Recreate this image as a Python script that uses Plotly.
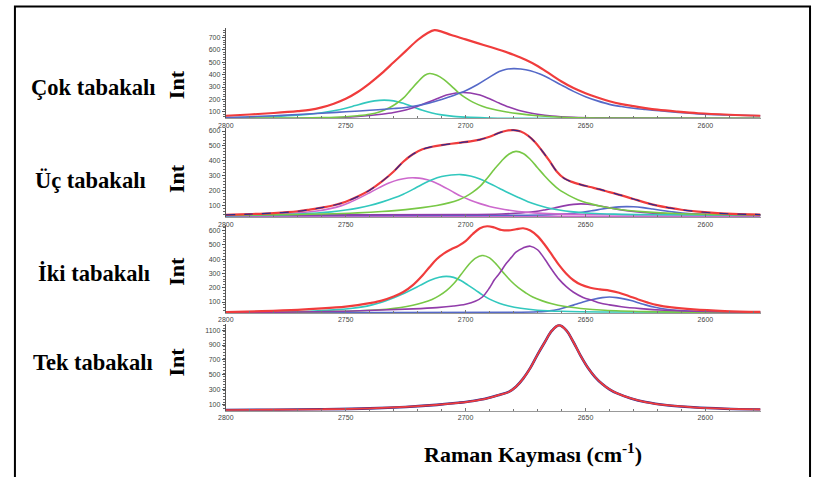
import plotly.graph_objects as go

W, H = 813, 477

# ---------------- data ----------------
LAYER_NAMES = ["Çok tabakalı", "Üç tabakalı", "İki tabakalı", "Tek tabakalı"]
X_TICKS = [2800, 2750, 2700, 2650, 2600]
X_TICK_LABELS = ["2800", "2750", "2700", "2650", "2600"]
Y_TICKS_1 = [100, 200, 300, 400, 500, 600, 700]
Y_TICKS_2 = [100, 200, 300, 400, 500, 600]
Y_TICKS_3 = [100, 200, 300, 400, 500, 600]
Y_TICKS_4 = [100, 300, 500, 700, 900, 1100]
X_TITLE = "Raman Kayması (cm<sup>-1</sup>)"

# Panel 1 : Çok tabakalı
p1_red_x = [2800, 2790, 2780, 2770, 2765, 2760, 2755, 2750, 2745, 2740, 2735, 2730, 2725, 2720, 2716, 2713, 2710, 2706, 2700, 2695, 2690, 2685, 2680, 2675, 2670, 2665, 2660, 2655, 2650, 2645, 2640, 2635, 2630, 2625, 2620, 2612, 2603, 2590, 2577]
p1_red_y = [68, 78, 90, 105, 115, 135, 165, 205, 260, 330, 410, 500, 590, 680, 735, 760, 748, 720, 685, 655, 625, 595, 560, 520, 470, 408, 345, 292, 250, 215, 185, 162, 145, 130, 117, 102, 88, 76, 68]
p1_green_x = [2800, 2770, 2760, 2750, 2745, 2740, 2736, 2732, 2729, 2726, 2723, 2720, 2717, 2715, 2712, 2709, 2706, 2703, 2700, 2697, 2693, 2689, 2684, 2678, 2670, 2660, 2645, 2577]
p1_green_y = [48, 50, 53, 60, 68, 80, 98, 130, 165, 210, 275, 340, 395, 409, 395, 360, 310, 255, 212, 178, 145, 122, 102, 85, 68, 56, 50, 48]
p1_cyan_x = [2800, 2790, 2780, 2770, 2765, 2760, 2755, 2750, 2746, 2742, 2738, 2734, 2730, 2726, 2722, 2718, 2714, 2710, 2705, 2698, 2690, 2675, 2640, 2577]
p1_cyan_y = [50, 55, 62, 72, 80, 92, 108, 128, 150, 172, 188, 194, 188, 168, 140, 112, 90, 75, 63, 55, 50, 47, 45, 45]
p1_purple_x = [2800, 2770, 2760, 2750, 2745, 2740, 2735, 2730, 2725, 2720, 2716, 2712, 2708, 2704, 2701, 2698, 2694, 2690, 2686, 2682, 2678, 2674, 2670, 2664, 2655, 2645, 2620, 2577]
p1_purple_y = [45, 48, 51, 56, 62, 70, 80, 94, 115, 145, 175, 205, 235, 252, 256, 252, 235, 205, 170, 138, 112, 94, 80, 66, 56, 51, 49, 48]
p1_blue_x = [2800, 2790, 2780, 2770, 2760, 2750, 2740, 2730, 2725, 2720, 2715, 2710, 2705, 2700, 2695, 2690, 2686, 2683, 2680, 2677, 2673, 2669, 2665, 2660, 2655, 2650, 2645, 2640, 2635, 2630, 2625, 2615, 2603, 2590, 2577]
p1_blue_y = [55, 60, 68, 78, 88, 100, 112, 126, 135, 150, 172, 200, 232, 270, 320, 380, 425, 444, 449, 446, 432, 405, 368, 315, 265, 222, 188, 160, 142, 128, 118, 100, 83, 74, 68]

# Panel 2 : Üç tabakalı
p2_red_x = [2800, 2790, 2780, 2770, 2765, 2760, 2755, 2750, 2745, 2740, 2735, 2730, 2726, 2722, 2718, 2714, 2710, 2706, 2702, 2698, 2694, 2690, 2686, 2683, 2680, 2677, 2674, 2671, 2668, 2665, 2662, 2659, 2656, 2652, 2648, 2644, 2640, 2635, 2630, 2625, 2620, 2615, 2610, 2603, 2595, 2586, 2577]
p2_red_y = [40, 45, 52, 64, 75, 88, 104, 128, 162, 205, 262, 330, 395, 445, 478, 495, 506, 515, 523, 531, 543, 562, 588, 602, 606, 597, 570, 525, 465, 400, 330, 285, 262, 242, 226, 210, 192, 170, 146, 122, 102, 87, 74, 61, 51, 45, 42]
p2_magenta_x = [2800, 2785, 2775, 2768, 2762, 2757, 2752, 2748, 2744, 2740, 2736, 2732, 2728, 2724, 2721, 2718, 2714, 2710, 2706, 2702, 2698, 2694, 2690, 2686, 2681, 2675, 2668, 2655, 2630, 2577]
p2_magenta_y = [40, 45, 50, 56, 66, 80, 100, 125, 155, 188, 222, 252, 274, 286, 287, 282, 265, 235, 200, 165, 138, 115, 96, 82, 69, 58, 50, 44, 41, 40]
p2_cyan_x = [2800, 2780, 2770, 2762, 2756, 2750, 2745, 2740, 2735, 2730, 2726, 2722, 2718, 2714, 2710, 2706, 2702, 2698, 2694, 2690, 2686, 2682, 2678, 2674, 2670, 2666, 2661, 2655, 2648, 2638, 2620, 2577]
p2_cyan_y = [35, 40, 45, 52, 60, 72, 85, 102, 125, 152, 178, 210, 245, 275, 296, 306, 309, 300, 280, 250, 218, 186, 156, 128, 106, 88, 72, 60, 51, 45, 41, 38]
p2_green_x = [2800, 2770, 2755, 2745, 2735, 2725, 2718, 2712, 2707, 2703, 2700, 2697, 2694, 2691, 2688, 2685, 2682, 2679, 2676, 2673, 2670, 2667, 2664, 2661, 2657, 2653, 2648, 2642, 2635, 2625, 2612, 2595, 2577]
p2_green_y = [38, 42, 47, 53, 62, 75, 88, 103, 120, 140, 162, 192, 230, 285, 345, 400, 445, 464, 450, 410, 355, 300, 250, 208, 170, 140, 115, 92, 74, 60, 49, 43, 40]
p2_purple_x = [2800, 2700, 2685, 2677, 2671, 2667, 2663, 2659, 2655, 2652, 2649, 2645, 2641, 2637, 2632, 2626, 2618, 2600, 2577]
p2_purple_y = [38, 42, 46, 52, 62, 73, 86, 100, 110, 113, 111, 102, 90, 78, 66, 56, 48, 43, 41]
p2_blue_x = [2800, 2680, 2665, 2658, 2652, 2647, 2643, 2639, 2636, 2633, 2630, 2626, 2622, 2618, 2613, 2607, 2600, 2590, 2577]
p2_blue_y = [35, 37, 41, 47, 56, 68, 79, 88, 93, 95, 94, 88, 79, 69, 58, 48, 42, 38, 36]
p2_base_x = [2800, 2577]
p2_base_y = [30, 30]

# Panel 3 : İki tabakalı
p3_red_x = [2800, 2785, 2770, 2760, 2750, 2745, 2740, 2735, 2730, 2726, 2722, 2718, 2715, 2712, 2709, 2706, 2703, 2700, 2697, 2694, 2691, 2688, 2685, 2682, 2679, 2676, 2673, 2670, 2667, 2664, 2661, 2658, 2655, 2652, 2648, 2644, 2640, 2636, 2632, 2628, 2624, 2620, 2614, 2605, 2592, 2577]
p3_red_y = [30, 36, 45, 55, 68, 78, 92, 110, 138, 170, 218, 285, 345, 400, 440, 468, 492, 525, 575, 615, 630, 620, 603, 600, 608, 615, 600, 560, 500, 430, 358, 298, 252, 222, 200, 188, 180, 165, 142, 118, 96, 78, 62, 48, 37, 31]
p3_cyan_x = [2800, 2780, 2765, 2755, 2748, 2743, 2739, 2735, 2731, 2727, 2723, 2719, 2715, 2711, 2708, 2705, 2702, 2699, 2696, 2693, 2690, 2686, 2682, 2677, 2670, 2660, 2640, 2577]
p3_cyan_y = [28, 30, 36, 45, 55, 66, 80, 98, 122, 150, 182, 216, 250, 273, 279, 272, 250, 218, 185, 150, 120, 92, 72, 56, 43, 35, 30, 28]
p3_green_x = [2800, 2770, 2750, 2740, 2733, 2727, 2722, 2718, 2714, 2711, 2708, 2705, 2702, 2699, 2696, 2693, 2690, 2687, 2684, 2681, 2678, 2675, 2672, 2668, 2664, 2659, 2652, 2642, 2625, 2600, 2577]
p3_green_y = [25, 30, 36, 42, 50, 62, 78, 95, 118, 145, 180, 228, 290, 355, 405, 425, 408, 360, 300, 245, 200, 165, 135, 108, 88, 70, 55, 42, 33, 28, 27]
p3_purple_x = [2800, 2770, 2750, 2735, 2722, 2712, 2705, 2700, 2696, 2693, 2690, 2688, 2686, 2683, 2681, 2679, 2676, 2673, 2670, 2667, 2664, 2661, 2658, 2655, 2651, 2647, 2644, 2640, 2635, 2627, 2617, 2600, 2577]
p3_purple_y = [25, 30, 36, 44, 52, 61, 72, 85, 105, 135, 200, 255, 298, 370, 410, 448, 478, 490, 465, 400, 325, 258, 207, 168, 132, 110, 93, 80, 67, 54, 43, 34, 30]
p3_blue_x = [2800, 2680, 2670, 2665, 2661, 2657, 2654, 2651, 2647, 2643, 2640, 2637, 2634, 2631, 2628, 2625, 2621, 2617, 2612, 2605, 2595, 2577]
p3_blue_y = [25, 28, 32, 38, 50, 68, 84, 100, 118, 131, 135, 131, 122, 110, 95, 80, 63, 51, 42, 35, 30, 28]

# Panel 4 : Tek tabakalı
p4_red_x = [2800, 2780, 2760, 2740, 2725, 2712, 2703, 2697, 2691, 2686, 2682, 2679, 2676, 2673, 2670, 2667, 2664, 2661, 2658, 2655, 2652, 2649, 2646, 2643, 2640, 2637, 2631, 2625, 2616, 2605, 2592, 2577]
p4_red_y = [19, 24, 30, 42, 62, 90, 118, 142, 178, 225, 265, 335, 445, 590, 770, 938, 1095, 1168, 1100, 938, 754, 593, 467, 372, 300, 248, 177, 128, 85, 57, 38, 27]

# ---------------- styling ----------------
RED = "rgb(240,60,60)"
GREEN = "rgb(120,200,70)"
CYAN = "rgb(50,200,190)"
PURPLE = "rgb(145,60,170)"
BLUE = "rgb(85,105,200)"
MAGENTA = "rgb(205,105,205)"
NAVY = "rgb(50,40,140)"

X_RANGE = [2800, 2577]
X0_PX, X1_PX = 220, 760

# (bottom px, value at bottom, px per unit, top value, y ticks, minor step)
PANELS = [
    (117.7, 46, 0.124, 775, Y_TICKS_1, 20),
    (216.7, 24, 0.150, 618, Y_TICKS_2, 20),
    (312.7, 23, 0.1435, 636, Y_TICKS_3, 20),
    (410.7, 9, 0.074, 1180, Y_TICKS_4, 40),
]

fig = go.Figure()


def add(panel, xs, ys, color, width=1.6, dash="solid"):
    sfx = "" if panel == 1 else str(panel)
    fig.add_trace(go.Scatter(
        x=xs, y=ys, mode="lines",
        line=dict(color=color, width=width, shape="spline", smoothing=1.0, dash=dash),
        xaxis="x" + sfx, yaxis="y" + sfx, showlegend=False, hoverinfo="skip"))


add(1, p1_cyan_x, p1_cyan_y, CYAN)
add(1, p1_purple_x, p1_purple_y, PURPLE)
add(1, p1_green_x, p1_green_y, GREEN)
add(1, p1_blue_x, p1_blue_y, BLUE)
add(1, p1_red_x, p1_red_y, RED, 2.2)

add(2, p2_base_x, p2_base_y, MAGENTA, 1.5)
add(2, p2_blue_x, p2_blue_y, BLUE)
add(2, p2_purple_x, p2_purple_y, PURPLE)
add(2, p2_magenta_x, p2_magenta_y, MAGENTA)
add(2, p2_cyan_x, p2_cyan_y, CYAN)
add(2, p2_green_x, p2_green_y, GREEN)
add(2, p2_red_x, p2_red_y, RED, 2.2)
add(2, p2_red_x, p2_red_y, NAVY, 1.2, "dash")

add(3, p3_blue_x, p3_blue_y, BLUE)
add(3, p3_cyan_x, p3_cyan_y, CYAN)
add(3, p3_green_x, p3_green_y, GREEN)
add(3, p3_purple_x, p3_purple_y, PURPLE)
add(3, p3_red_x, p3_red_y, RED, 2.2)

add(4, p4_red_x, p4_red_y, NAVY, 2.6)
add(4, p4_red_x, p4_red_y, RED, 1.8)

layout = dict(
    width=W, height=H,
    margin=dict(l=0, r=0, t=0, b=0),
    paper_bgcolor="white", plot_bgcolor="white",
    showlegend=False,
)

tickfont = dict(family="Liberation Sans, Arial, sans-serif", size=7, color="#444")
for i, (b_px, v0, s, vt, yt, ydt) in enumerate(PANELS, start=1):
    sfx = "" if i == 1 else str(i)
    top_px = b_px - (vt - v0) * s
    layout["xaxis" + sfx] = dict(
        domain=[X0_PX / W, X1_PX / W], range=X_RANGE, anchor="y" + sfx,
        showgrid=False, zeroline=False, showline=True, linecolor="#999", linewidth=1,
        tickmode="array", tickvals=X_TICKS, ticktext=X_TICK_LABELS,
        ticks="inside", ticklen=3, tickcolor="#777", tickfont=tickfont,
        minor=dict(tickmode="linear", tick0=2800, dtick=10, ticks="inside", ticklen=2, tickcolor="#777"),
        fixedrange=True)
    layout["yaxis" + sfx] = dict(
        domain=[1 - b_px / H, 1 - top_px / H], range=[v0, vt], anchor="x" + sfx,
        showgrid=False, zeroline=False, showline=True, linecolor="#555", linewidth=1.2,
        tickmode="array", tickvals=yt, ticktext=[str(v) for v in yt],
        ticks="outside", ticklen=3, tickcolor="#555", tickfont=tickfont,
        minor=dict(tickmode="linear", tick0=0, dtick=ydt, ticks="outside", ticklen=2, tickcolor="#666"),
        fixedrange=True)

fig.update_layout(**layout)

serif = "Liberation Serif, Times New Roman, serif"
label_pos = [(86, 87), (83, 180), (87, 273), (86, 362)]
int_pos = [(170, 84), (170, 178), (170, 271), (170, 362)]
for name, (lx, ly), (ix, iy) in zip(LAYER_NAMES, label_pos, int_pos):
    fig.add_annotation(text="<b>%s</b>" % name, x=lx / W, y=1 - ly / H, xref="paper", yref="paper",
                       xanchor="center", yanchor="middle", showarrow=False,
                       font=dict(family=serif, size=22.5, color="black"))
    fig.add_annotation(text="<b>Int</b>", x=ix / W, y=1 - iy / H, xref="paper", yref="paper",
                       xanchor="center", yanchor="middle", showarrow=False, textangle=-90,
                       font=dict(family=serif, size=22, color="black"))

fig.add_annotation(text="<b>%s</b>" % X_TITLE, x=530 / W, y=1 - 453 / H, xref="paper", yref="paper",
                   xanchor="center", yanchor="middle", showarrow=False,
                   font=dict(family=serif, size=22, color="black"))

# outer frame
fig.add_shape(type="rect", xref="paper", yref="paper",
              x0=7 / W, x1=810 / W, y0=-0.05, y1=1 - 5.5 / H,
              line=dict(color="black", width=2), fillcolor="rgba(0,0,0,0)")

fig.write_html("out.html")
